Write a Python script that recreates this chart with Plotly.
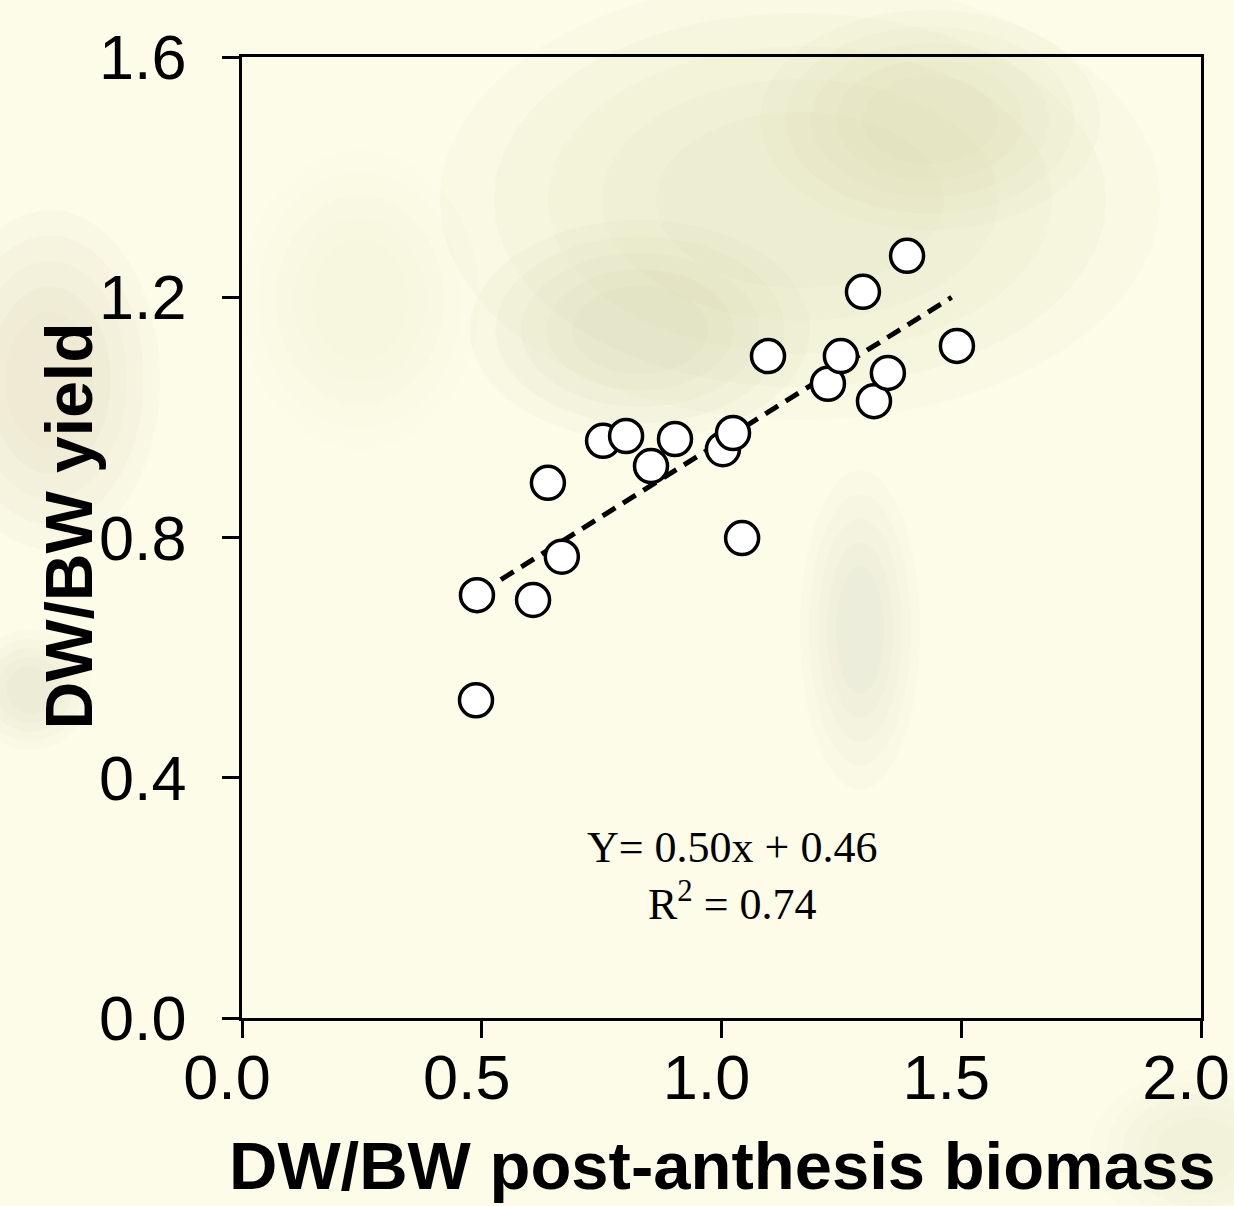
import plotly.graph_objects as go

# Data
x_vals = [0.490, 0.488, 0.607, 0.638, 0.667, 0.753, 0.801, 0.853, 0.903, 1.003,
          1.024, 1.043, 1.097, 1.222, 1.249, 1.295, 1.318, 1.347, 1.387, 1.491]
y_vals = [0.704, 0.529, 0.696, 0.891, 0.768, 0.961, 0.969, 0.919, 0.964, 0.947,
          0.974, 0.799, 1.102, 1.056, 1.102, 1.209, 1.027, 1.074, 1.269, 1.119]

fit_x = [0.54, 1.48]
fit_y = [0.73, 1.20]

x_ticks = [0.0, 0.5, 1.0, 1.5, 2.0]
y_ticks = [0.0, 0.4, 0.8, 1.2, 1.6]

x_title = "DW/BW post-anthesis biomass"
y_title = "DW/BW yield"
equation = "Y= 0.50x + 0.46<br>R<sup>2</sup> = 0.74"
eq_pos = (1.021, 0.237)

# soft background blobs (decoration imitating the blurred photo behind the chart)
# (cx, cy, rx, ry) in page pixels, colour, per-layer opacity
blobs = [
    ((800, 200, 360, 220), "#c9c7a0", 0.06),
    ((640, 330, 170, 110), "#c4c1a0", 0.07),
    ((930, 120, 170, 110), "#c6c59c", 0.06),
    ((50, 380, 110, 170), "#cfcca8", 0.07),
    ((30, 690, 60, 60), "#cfcca8", 0.06),
    ((860, 630, 60, 160), "#d2d1b8", 0.06),
    ((1200, 1150, 110, 80), "#d2d2b6", 0.05),
    ((360, 300, 120, 150), "#d8d6bc", 0.03),
]
layers = [1.0, 0.85, 0.7, 0.55, 0.4]

W, H = 1234, 1206
L, R, T, B = 242, 33, 57, 188
pw, ph = W - L - R, H - T - B

fig = go.Figure()

for (cx, cy, rx, ry), col, op in blobs:
    for s in layers:
        fig.add_shape(type="circle", xref="paper", yref="paper",
                      x0=(cx - rx * s - L) / pw, x1=(cx + rx * s - L) / pw,
                      y0=(H - B - (cy + ry * s)) / ph, y1=(H - B - (cy - ry * s)) / ph,
                      fillcolor=col, opacity=op, line=dict(width=0), layer="below")

fig.add_trace(go.Scatter(
    x=fit_x, y=fit_y, mode="lines",
    line=dict(color="black", width=5, dash="15px,9px"),
    showlegend=False, hoverinfo="skip"))

fig.add_trace(go.Scatter(
    x=x_vals, y=y_vals, mode="markers",
    marker=dict(size=33, color="white", line=dict(color="black", width=3.5)),
    showlegend=False))

axis_common = dict(
    showgrid=False, zeroline=False, showline=True, linecolor="black", linewidth=2.5,
    mirror=True, ticks="outside", ticklen=17, tickwidth=2.5, tickcolor="black",
    automargin=False,
    tickfont=dict(family="Liberation Sans, Arial, sans-serif", size=63, color="black"),
    tickformat=".1f")

fig.update_xaxes(range=[0, 2.0], tickvals=x_ticks, ticklabelshift=-15,
                 ticklabelstandoff=-14, **axis_common)
fig.update_yaxes(range=[0, 1.6], tickvals=y_ticks, ticklabelstandoff=23,
                 **axis_common)

fig.add_annotation(
    text="<b>%s</b>" % x_title, xref="paper", yref="paper", x=0.5, y=0,
    xanchor="center", yanchor="middle", yshift=-147, showarrow=False,
    font=dict(family="Liberation Sans, Arial, sans-serif", size=67, color="black"))

fig.add_annotation(
    text="<b>%s</b>" % y_title, xref="paper", yref="paper", x=0, y=0.5,
    xanchor="center", yanchor="middle", xshift=-174, yshift=11, textangle=-90,
    showarrow=False,
    font=dict(family="Liberation Sans, Arial, sans-serif", size=66, color="black"))

fig.add_annotation(
    text=equation, x=eq_pos[0], y=eq_pos[1], xref="x", yref="y",
    xanchor="center", yanchor="middle", showarrow=False,
    font=dict(family="Liberation Serif, Times New Roman, serif", size=44, color="black"))

fig.update_layout(
    width=W, height=H,
    margin=dict(l=L, r=R, t=T, b=B),
    paper_bgcolor="#fcfce9", plot_bgcolor="rgba(0,0,0,0)",
)

fig.write_html("out.html")
